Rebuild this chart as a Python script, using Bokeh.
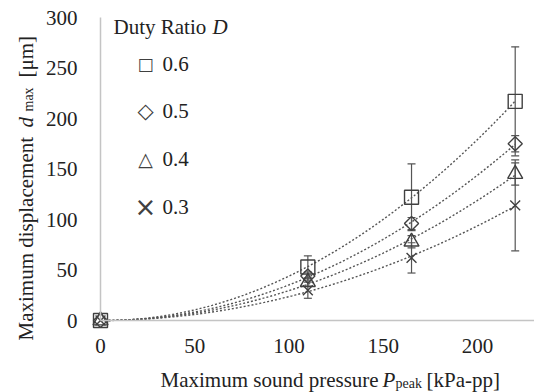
import numpy as np
from bokeh.plotting import figure
from bokeh.models import (ColumnDataSource, Whisker, TeeHead, Label, Range1d,
                          FixedTicker)
from bokeh.embed import file_html
from bokeh.resources import INLINE

# ---------------- data ----------------
pressure = [0, 110, 165, 220]          # P_peak [kPa-pp]
duty_labels = ["0.6", "0.5", "0.4", "0.3"]
duty_symbols = ["□", "◇", "△", "×"]
d_06 = [0, 53, 122, 217]               # d_max [um]
d_05 = [0, 44, 96, 175]
d_04 = [0, 38, 78, 145]
d_03 = [0, 30, 62, 114]
err_06 = [0, 11, 33, 54]
err_05 = [0, 4, 6, 8]
err_04 = [0, 4, 6, 11]
err_03 = [0, 8, 15, 45]
x_ticks = [0, 50, 100, 150, 200]
y_ticks = [0, 50, 100, 150, 200, 250, 300]

series = [d_06, d_05, d_04, d_03]
errors = [err_06, err_05, err_04, err_03]

# ---------------- layout / styles ----------------
W, H = 534, 392
X0PX, SX = 100, 1.885      # page x of data x=0, px per unit
Y0PX, SY = 320, 1.01       # page y of data y=0, px per unit
BASE_SHIFT = 7             # renderer baseline offset compensation
FONT = "Liberation Serif"
TXT = "#222222"
MK = "#404040"
AXC = "#c4c4c4"
marker_styles = [dict(marker="square", size=14, angle=0),
                 dict(marker="square", size=10, angle=np.pi / 4),
                 dict(marker="triangle", size=15, angle=0),
                 dict(marker="x", size=14, angle=0)]
symbol_sizes = ["17px", "21px", "19px", "26px"]

p = figure(width=W, height=H, output_backend="svg", toolbar_location=None,
           x_range=Range1d(-X0PX / SX, (W - X0PX) / SX),
           y_range=Range1d(-(H - Y0PX) / SY, Y0PX / SY),
           min_border=0)
p.outline_line_color = None
p.xgrid.visible = False
p.ygrid.visible = False
p.background_fill_color = "white"
p.border_fill_color = "white"

for ax, ticks, bnd in ((p.xaxis[0], x_ticks, (0, 230)), (p.yaxis[0], y_ticks, (0, 300))):
    ax.ticker = FixedTicker(ticks=ticks)
    ax.fixed_location = 0
    ax.bounds = bnd
    ax.axis_line_color = AXC
    ax.axis_line_width = 1.5
    ax.major_tick_line_color = None
    ax.minor_tick_line_color = None
    ax.major_label_text_font = FONT
    ax.major_label_text_font_size = "21px"
    ax.major_label_text_color = TXT
p.yaxis.major_label_standoff = 17
p.xaxis.major_label_standoff = 12

# trend lines (least-squares quadratic through origin, fitted to the data)
xs_fit = np.linspace(0, max(pressure), 120)
X = np.array(pressure, dtype=float)
A = np.vstack([X ** 2, X]).T
for vals in series:
    coef, *_ = np.linalg.lstsq(A, np.array(vals, dtype=float), rcond=None)
    p.line(xs_fit, coef[0] * xs_fit ** 2 + coef[1] * xs_fit,
           line_color="#555555", line_width=1.4, line_dash="2 2")

# error bars
for vals, errs in zip(series, errors):
    xs = [x for x, e in zip(pressure, errs) if e > 0]
    up = [v + e for v, e in zip(vals, errs) if e > 0]
    lo = [v - e for v, e in zip(vals, errs) if e > 0]
    src = ColumnDataSource(dict(x=xs, upper=up, lower=lo))
    w = Whisker(source=src, base="x", upper="upper", lower="lower",
                line_color="#555555", line_width=1.2,
                upper_head=TeeHead(size=8, line_color="#555555", line_width=1.2),
                lower_head=TeeHead(size=8, line_color="#555555", line_width=1.2))
    p.add_layout(w)

# markers
for vals, st in zip(series, marker_styles):
    p.scatter(pressure, vals, marker=st["marker"], size=st["size"],
              angle=st["angle"], fill_color=None, line_color=MK, line_width=1.4)

# ---------------- text labels (page-pixel placement) ----------------
def dx(px):
    return (px - X0PX) / SX

def dy(py):
    return (Y0PX - py) / SY

def lab(text, px, py, size="21px", style="normal", angle=0, font=FONT,
        align="left", baseline="alphabetic", color=TXT):
    p.add_layout(Label(x=dx(px), y=dy(py), text=text, text_font=font,
                       text_font_size=size, text_font_style=style,
                       text_color=color, text_align=align,
                       text_baseline=baseline, angle=angle))

# legend
lab("Duty Ratio", 113, 33 - BASE_SHIFT)
lab("D", 212, 33 - BASE_SHIFT, style="italic")
for i, (sym, txt, fs) in enumerate(zip(duty_symbols, duty_labels, symbol_sizes)):
    yc = 63 + i * 47.7
    lab(sym, 145, yc, size=fs, font="DejaVu Sans", align="center",
        baseline="middle", color=MK)
    lab(txt, 162, yc, baseline="middle")

# x axis label
XB = 386 - BASE_SHIFT
lab("Maximum sound pressure", 160, XB)
lab("P", 382, XB, style="italic")
lab("peak", 395, XB + 4, size="14px")
lab("[kPa-pp]", 426, XB)
# y axis label
YB = 32 - BASE_SHIFT
lab("Maximum displacement", YB, 340, angle=np.pi / 2)
lab("d", YB, 127, style="italic", angle=np.pi / 2)
lab("max", YB + 3, 111, size="14px", angle=np.pi / 2)
lab("[μm]", YB, 77, angle=np.pi / 2)

open("out.html", "w").write(file_html(p, INLINE))
